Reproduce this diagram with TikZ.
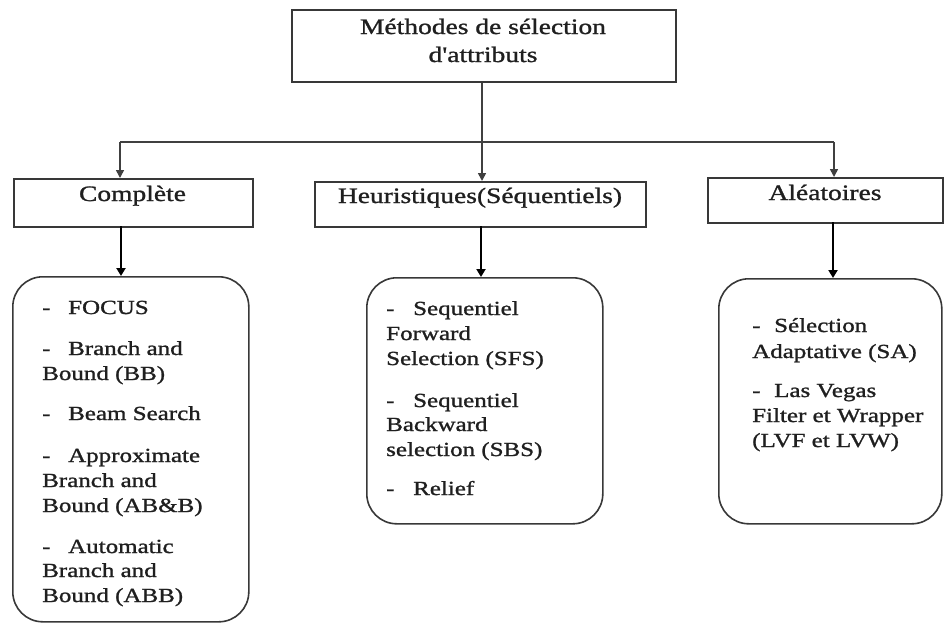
\documentclass[tikz,border=0pt]{standalone}
\usepackage{fontspec}
\newfontfamily\tnr{Liberation Serif}[FakeStretch=1.25,FakeBold=1.2]
\usetikzlibrary{arrows.meta}
\newcommand{\itemdash}[1]{\makebox[#1][l]{-}}
\begin{document}
\begin{tikzpicture}[x=1pt,y=-1pt,
  box/.style={draw=black!78, line width=1.6pt, inner sep=0pt, anchor=north west},
  rbox/.style={draw=black!78, line width=1.6pt, rounded corners=30pt, inner sep=0pt, anchor=north west},
  conn/.style={draw=black!75, line width=1.6pt},
  connarrow/.style={conn, -{Triangle[width=8pt,length=8pt]}},
  bigarrow/.style={draw=black, line width=2.4pt, -{Triangle[width=9pt,length=8pt]}},
  head/.style={font=\tnr\fontsize{22}{28}\selectfont, text=black!88, anchor=base, inner sep=0pt},
  itemtext/.style={font=\tnr\fontsize{20}{25}\selectfont, text=black!88, anchor=base west, inner sep=0pt}]
\useasboundingbox (0,0) rectangle (944,624);

% boxes
\node[box, minimum width=384pt, minimum height=72pt] (top) at (291,9) {};
\node[box, minimum width=239pt, minimum height=48pt] (comp) at (13,178) {};
\node[box, minimum width=331pt, minimum height=45pt] (heur) at (314,181) {};
\node[box, minimum width=235pt, minimum height=45pt] (alea) at (707,177) {};
\node[rbox, minimum width=236pt, minimum height=345pt] (lbox) at (12,276) {};
\node[rbox, minimum width=236pt, minimum height=246pt] (mbox) at (366,277) {};
\node[rbox, minimum width=223pt, minimum height=245pt] (rbox) at (718,278) {};

% connectors
\coordinate (bus) at (482,142);
\coordinate (busL) at (120,142);
\coordinate (busR) at (834,142);
\coordinate (inL) at (120,178);
\coordinate (inM) at (482,181);
\coordinate (inR) at (834,177);
\draw[conn] (busL) -- (busR);
\draw[connarrow] (top.south -| bus) -- (inM);
\draw[connarrow] (busL) -- (inL);
\draw[connarrow] (busR) -- (inR);

\coordinate (outL) at (121,226);
\coordinate (outM) at (481,226);
\coordinate (outR) at (833,222);
\draw[bigarrow] (outL) -- (lbox.north -| outL);
\draw[bigarrow] (outM) -- (mbox.north -| outM);
\draw[bigarrow] (outR) -- (rbox.north -| outR);

% titles
\node[head] (t1) at (483,34) {Méthodes de sélection};
\node[head] (t2) at (483,62) {d'attributs};
\node[head] (tc) at (132.5,201) {Complète};
\node[head] (th) at (480,203) {Heuristiques(Séquentiels)};
\node[head] (ta) at (825,200) {Aléatoires};

% left list
\node[itemtext] (l1) at (42,314) {\itemdash{26pt}FOCUS};
\node[itemtext] (l2) at (42,355) {\itemdash{26pt}Branch and};
\node[itemtext] (l3) at (42,380) {Bound (BB)};
\node[itemtext] (l4) at (42,420) {\itemdash{26pt}Beam Search};
\node[itemtext] (l5) at (42,462) {\itemdash{26pt}Approximate};
\node[itemtext] (l6) at (42,487) {Branch and};
\node[itemtext] (l7) at (42,512) {Bound (AB\&B)};
\node[itemtext] (l8) at (42,553) {\itemdash{26pt}Automatic};
\node[itemtext] (l9) at (42,577) {Branch and};
\node[itemtext] (l10) at (42,602) {Bound (ABB)};

% middle list
\node[itemtext] (m1) at (386,315) {\itemdash{27pt}Sequentiel};
\node[itemtext] (m2) at (386,340) {Forward};
\node[itemtext] (m3) at (386,365) {Selection (SFS)};
\node[itemtext] (m4) at (386,407) {\itemdash{27pt}Sequentiel};
\node[itemtext] (m5) at (386,431) {Backward};
\node[itemtext] (m6) at (386,456) {selection (SBS)};
\node[itemtext] (m7) at (386,495) {\itemdash{27pt}Relief};

% right list
\node[itemtext] (r1) at (752,332) {\itemdash{22pt}Sélection};
\node[itemtext] (r2) at (752,358) {Adaptative (SA)};
\node[itemtext] (r3) at (752,397) {\itemdash{22pt}Las Vegas};
\node[itemtext] (r4) at (752,422) {Filter et Wrapper};
\node[itemtext] (r5) at (752,447) {(LVF et LVW)};
\end{tikzpicture}
\end{document}
